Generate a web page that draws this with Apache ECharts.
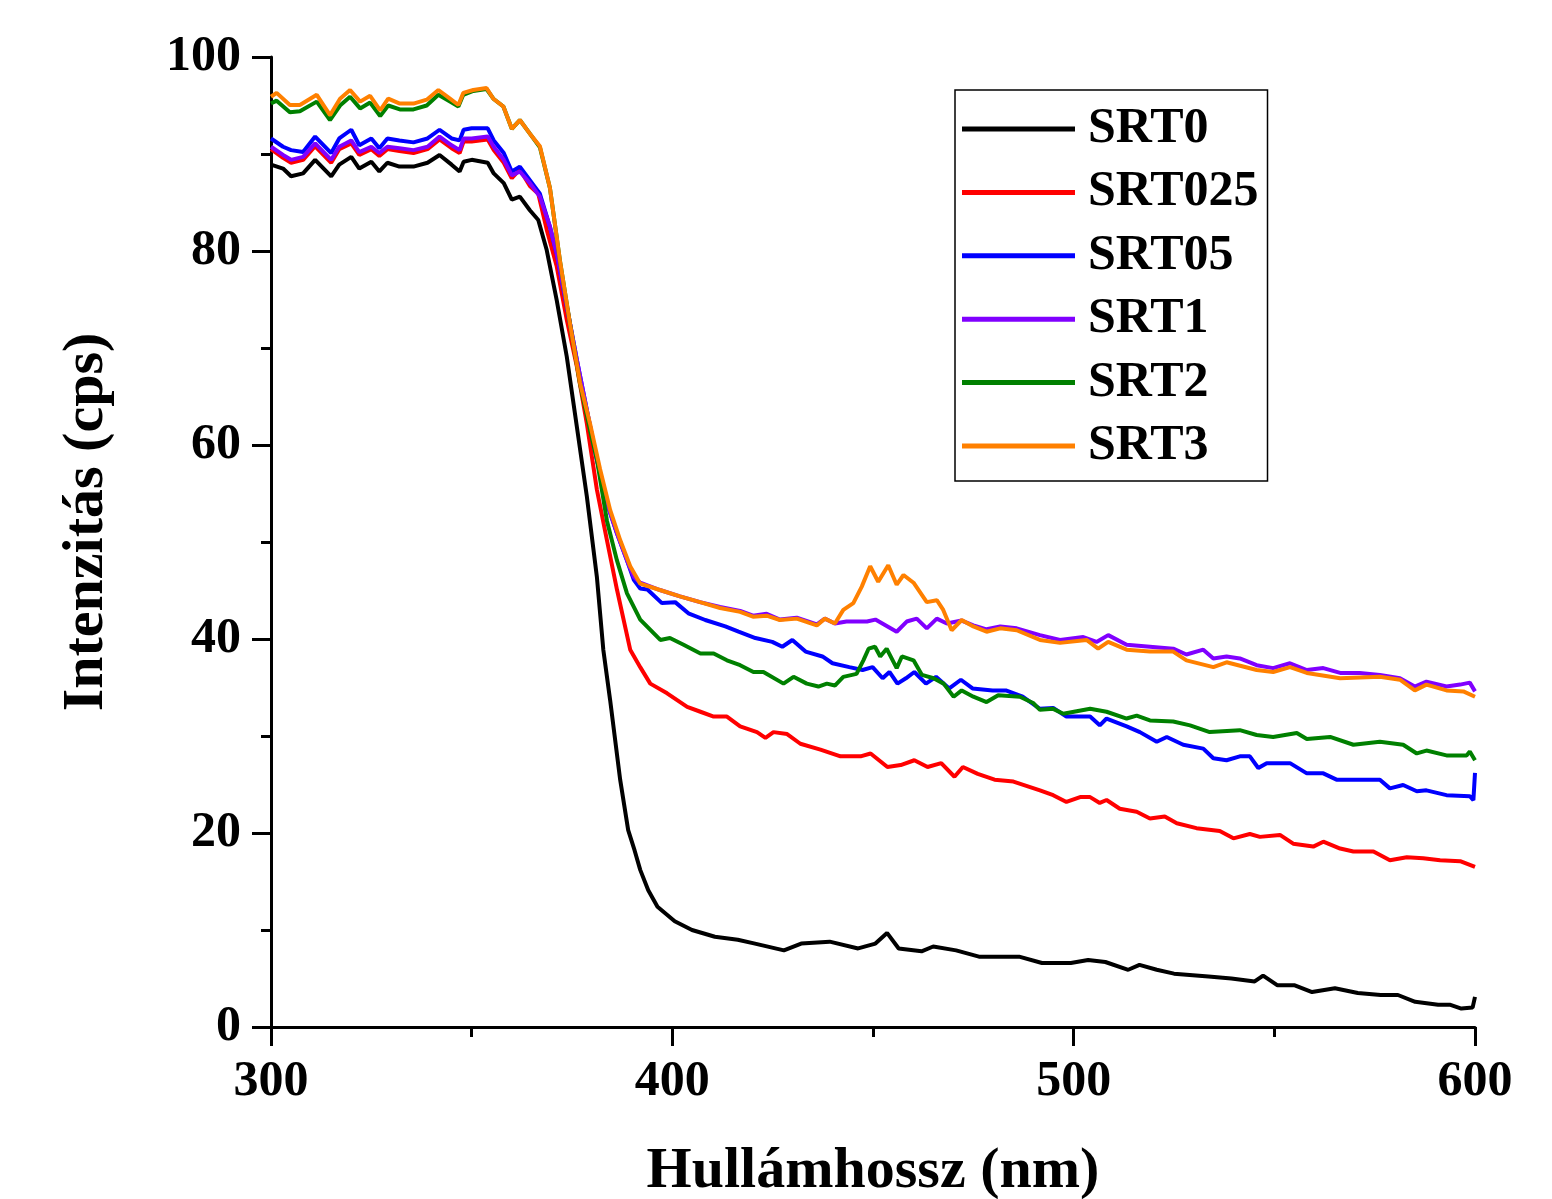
<!DOCTYPE html>
<html>
<head>
<meta charset="utf-8">
<script src="https://cdn.jsdelivr.net/npm/echarts@6/dist/echarts.min.js"></script>
<style>
  html, body { margin: 0; padding: 0; background: #fff; }
  #chart { width: 1552px; height: 1199px; }
</style>
</head>
<body>
<div id="chart"></div>
<script>
// wavelength (nm), intensity (cps)
const srt0 = [[300,88.9],[303,88.5],[305,87.7],[308,88.0],[311,89.4],[315,87.7],[317,88.9],[320,89.7],[322,88.5],[325,89.2],[327,88.2],[329,89.1],[332,88.7],[335.5,88.7],[339,89.1],[342,89.9],[345,88.9],[347,88.2],[348,89.2],[350,89.4],[354,89.1],[355.5,88.0],[358,87.0],[360,85.3],[362,85.6],[364.5,84.2],[366.6,83.2],[368.7,80.1],[371.2,74.9],[373.7,69.1],[376.2,61.9],[378.7,54.7],[381.2,46.4],[382.8,38.9],[384.5,33.7],[387,25.5],[389,20.3],[390.6,18.2],[392,16.2],[394,14.1],[396.3,12.4],[400.6,10.9],[404.9,10.0],[410.6,9.3],[416.3,9.0],[420.6,8.6],[427.8,7.9],[432.1,8.6],[439.2,8.8],[446.3,8.1],[450.6,8.6],[453.5,9.7],[456.4,8.1],[462.1,7.8],[465,8.3],[470.7,7.9],[476.4,7.25],[482.1,7.25],[486.4,7.25],[492.1,6.6],[499.3,6.6],[503.6,6.9],[507.9,6.7],[513.6,5.9],[516.4,6.4],[520.7,5.9],[525,5.5],[533.6,5.2],[539.3,5.0],[545.1,4.7],[547.2,5.3],[550.8,4.3],[555.1,4.3],[559.4,3.6],[565.1,4.0],[570.8,3.5],[576.5,3.3],[580.8,3.3],[585.1,2.6],[590.8,2.3],[593.7,2.3],[596.6,1.9],[599.4,2.0],[600,3.1]];

const srt025 = [[300,90.5],[303,89.6],[305,89.1],[308,89.4],[311,90.8],[315,89.1],[317,90.5],[320,91.1],[322,89.9],[325,90.5],[327,89.8],[329,90.5],[332,90.3],[335.5,90.1],[339,90.5],[342,91.5],[345,90.6],[347,90.1],[348,91.3],[350,91.3],[354,91.5],[355.5,90.4],[358,89.1],[360,87.5],[362,88.4],[364.5,86.7],[366.6,85.9],[368.7,82.2],[371.2,78.4],[373.7,72.9],[376.2,68.1],[378.7,62.2],[381.2,55.4],[383.7,50.2],[386.2,45.1],[389.5,38.9],[392,37.1],[394.5,35.4],[398.7,34.4],[403.7,33.0],[407,32.5],[410.3,32.0],[413.6,32.0],[416.9,31.0],[421.1,30.4],[423.2,29.8],[425.2,30.4],[428.6,30.2],[431.9,29.2],[436.9,28.6],[441.9,27.9],[446.9,27.9],[449.4,28.2],[453.6,26.8],[456.9,27.0],[460.3,27.5],[463.6,26.8],[467,27.2],[470.3,25.8],[472.4,26.8],[476.1,26.1],[480.3,25.5],[485,25.3],[491.6,24.4],[494.9,23.9],[498.2,23.2],[501.6,23.7],[504.1,23.7],[506.5,23.1],[508.2,23.4],[511.5,22.5],[515.7,22.2],[519,21.5],[522.7,21.7],[525.7,21.0],[530.6,20.5],[536.4,20.2],[539.8,19.45],[543.9,19.9],[546.4,19.6],[551.4,19.8],[554.7,18.9],[559.7,18.6],[562.2,19.1],[566.4,18.4],[569.7,18.1],[574.7,18.1],[578.8,17.2],[583,17.5],[587.1,17.4],[591.3,17.2],[596.3,17.1],[600,16.5]];

const srt05 = [[300,91.6],[303,90.75],[305,90.4],[308,90.2],[311,91.8],[315,90.1],[317,91.6],[320,92.5],[322,90.9],[325,91.6],[327,90.6],[329,91.6],[332,91.4],[335.5,91.2],[339,91.6],[342,92.5],[345,91.6],[347,91.4],[348,92.5],[350,92.65],[354,92.65],[355.5,91.4],[358,90.1],[360,88.2],[362,88.7],[364.5,87.3],[367,85.9],[369.5,82.5],[371.2,79.7],[373.7,74.3],[376.2,68.8],[378.7,63.6],[381.2,58.5],[383.7,54.0],[386.2,50.9],[388.7,48.1],[390.4,46.1],[392,45.2],[393.8,45.1],[397.4,43.7],[400.7,43.8],[404,42.65],[408.2,41.96],[413.2,41.3],[416.5,40.75],[420.7,40.1],[424.9,39.7],[427.4,39.2],[429.9,39.9],[433.2,38.7],[437.4,38.2],[439.9,37.5],[444.1,37.1],[447.4,36.8],[449.9,37.1],[452.4,35.95],[454.1,36.6],[456.1,35.4],[458.2,35.95],[460.3,36.6],[463.2,35.4],[465.7,36.1],[469,34.9],[471.9,35.8],[474.8,34.9],[479.8,34.7],[483.1,34.7],[487.3,34.05],[491.6,32.8],[494.9,32.9],[498.2,32.0],[504.1,32.0],[506.5,31.1],[508.2,31.8],[513.2,31.0],[516.5,30.4],[520.7,29.4],[523.2,29.9],[527.3,29.1],[532.3,28.7],[534.8,27.7],[538.1,27.5],[541.4,27.9],[543.9,27.9],[546,26.7],[548.1,27.2],[553.9,27.2],[558.1,26.15],[562.2,26.15],[565.5,25.5],[571.3,25.5],[576.3,25.5],[578.8,24.6],[582.1,24.95],[585.5,24.3],[587.9,24.4],[592.9,23.9],[598.7,23.8],[599.6,23.4],[600,26.2]];

const srt1 = [[300,90.75],[303,89.9],[305,89.4],[308,89.7],[311,91.1],[315,89.4],[317,90.75],[320,91.4],[322,90.2],[325,90.75],[327,90.1],[329,90.75],[332,90.6],[335.5,90.4],[339,90.75],[342,91.8],[345,90.9],[347,90.4],[348,91.6],[350,91.6],[354,91.8],[355.5,90.75],[358,89.4],[360,87.8],[362,88.2],[364.5,87.0],[367,85.6],[369.5,82.5],[371.2,79.7],[373.7,74.3],[376.2,68.8],[378.7,63.6],[381.2,58.5],[383.7,54.0],[386.2,50.9],[388.7,48.1],[390.4,46.4],[392,45.8],[396.9,45.05],[401.9,44.4],[406.9,43.8],[411.9,43.3],[416.9,42.9],[420.1,42.4],[423.5,42.6],[426.8,42.0],[431,42.2],[436,41.5],[438,42.1],[440.5,41.6],[443.4,41.8],[448.5,41.8],[450.6,42.0],[455.9,40.75],[458.4,41.8],[460.9,42.1],[463.4,41.1],[465.9,42.1],[468.4,41.6],[472.1,41.9],[475,41.4],[478.3,41.0],[481.7,41.3],[485.8,41.1],[491.6,40.4],[496.6,39.9],[502.4,40.2],[505.7,39.7],[508.6,40.4],[513.2,39.4],[519,39.2],[524.8,39.0],[528.1,38.4],[532.3,38.9],[534.8,38.0],[538.1,38.2],[541.4,38.0],[545.6,37.3],[549.7,37.0],[553.9,37.5],[558.1,36.8],[562.2,37.0],[566.4,36.5],[571.3,36.5],[576.3,36.3],[581.3,35.95],[585,35.1],[587.9,35.6],[592.9,35.1],[596.3,35.3],[598.7,35.5],[600,34.6]];

const srt2 = [[300,95.2],[301.4,95.5],[304.7,94.3],[307.2,94.4],[311.4,95.4],[314.7,93.5],[317.2,95.0],[319.7,95.9],[322.2,94.7],[324.7,95.3],[327.2,93.9],[329.2,95.0],[332.1,94.6],[335.5,94.6],[338.8,95.0],[341.7,96.1],[344.6,95.4],[346.7,94.9],[347.9,96.1],[350.4,96.5],[353.7,96.7],[355.4,95.7],[357.9,94.9],[360,92.6],[362,93.5],[364.5,92.1],[367,90.7],[369.5,86.5],[372,79.0],[374.5,72.5],[377,66.3],[379.5,61.5],[381.2,58.5],[383.7,52.2],[386.2,48.1],[388.7,44.7],[392,42.0],[397,39.9],[399.4,40.1],[402.8,39.4],[407,38.5],[410.3,38.5],[413.6,37.8],[416.9,37.3],[420.2,36.6],[422.7,36.6],[427.7,35.4],[430.2,36.1],[433.5,35.4],[436.4,35.1],[438.5,35.4],[440.5,35.2],[442.6,36.1],[445.9,36.4],[447.6,37.8],[448.9,39.0],[450.5,39.2],[451.8,38.2],[453.4,39.0],[455.9,37.0],[457.2,38.2],[460.1,37.8],[462.2,36.3],[465.1,35.95],[467.6,35.4],[470.1,34.05],[472.1,34.7],[475,34.05],[478.3,33.5],[481.2,34.2],[486.6,34.05],[489.9,33.4],[491.6,32.7],[494.9,32.8],[497.4,32.3],[504.1,32.8],[508.2,32.5],[513.2,31.8],[515.7,32.1],[519,31.6],[524.8,31.5],[529,31.1],[533.9,30.4],[541.4,30.6],[545.6,30.1],[549.7,29.9],[555.6,30.3],[558.1,29.7],[563.9,29.9],[569.7,29.1],[576.3,29.4],[582.1,29.1],[585.5,28.2],[587.9,28.5],[592.9,28.0],[597.9,28.0],[598.7,28.4],[600,27.5]];

const srt3 = [[300,95.9],[301.4,96.3],[304.7,95.05],[307.2,95.05],[311.4,96.1],[314.7,94.0],[317.2,95.7],[319.7,96.6],[322.2,95.4],[324.7,96.0],[327.2,94.5],[329.2,95.7],[332.1,95.2],[335.5,95.2],[338.8,95.6],[341.7,96.6],[344.6,95.7],[346.7,95.05],[347.9,96.3],[350.4,96.6],[353.7,96.8],[355.4,95.7],[357.9,94.9],[360,92.6],[362,93.5],[364.5,92.1],[367,90.8],[369.5,86.5],[372,79.0],[374.5,72.5],[377,66.4],[379.5,62.2],[382,57.5],[384.5,53.3],[387,50.2],[389.5,47.5],[392,45.7],[396.9,45.05],[401.9,44.4],[406.9,43.8],[411.9,43.2],[416.9,42.8],[420.1,42.3],[423.5,42.4],[426.8,41.96],[431,42.1],[436,41.4],[438,42.1],[440.5,41.6],[442.6,43.0],[445.1,43.7],[447.2,45.4],[449.3,47.5],[451.3,45.9],[453.8,47.6],[455.9,45.6],[457.6,46.6],[460.1,45.8],[463.4,43.8],[465.9,44.0],[467.5,43.0],[469.6,40.9],[472.1,41.96],[475,41.3],[478.3,40.75],[481.7,41.1],[485.8,40.9],[491.6,39.9],[496.6,39.6],[503.2,39.9],[506.1,39.0],[508.6,39.7],[513.2,38.9],[519,38.7],[524.8,38.7],[528.1,37.8],[534.8,37.1],[538.1,37.6],[545.6,36.8],[549.7,36.6],[553.9,37.1],[558.1,36.5],[566.4,35.95],[576.3,36.1],[581.3,35.8],[585,34.7],[587.9,35.3],[592.9,34.7],[597.1,34.6],[600,34.05]];

const seriesNames = ['SRT0', 'SRT025', 'SRT05', 'SRT1', 'SRT2', 'SRT3'];
const seriesData = [srt0, srt025, srt05, srt1, srt2, srt3];
const seriesColors = ['#000000', '#ff0000', '#0000ff', '#8000ff', '#008000', '#ff8000'];

const font = "'Liberation Serif', 'Times New Roman', serif";
const chart = echarts.init(document.getElementById('chart'));

chart.setOption({
  animation: false,
  backgroundColor: '#fff',
  grid: { left: 271, right: 77, top: 57, bottom: 172, containLabel: false, outerBoundsMode: 'none' },
  legend: {
    orient: 'vertical',
    left: 955,
    top: 90,
    padding: [14, 9, 10, 7],
    itemGap: 13.4,
    itemWidth: 113,
    itemHeight: 5,
    icon: 'rect',
    borderColor: '#000',
    borderWidth: 1.5,
    backgroundColor: '#fff',
    data: seriesNames,
    textStyle: { fontFamily: font, fontWeight: 'bold', fontSize: 50, color: '#000', padding: [0, 0, 0, 8] }
  },
  xAxis: {
    type: 'value',
    min: 300,
    max: 600,
    interval: 100,
    name: 'Hullámhossz (nm)',
    nameLocation: 'middle',
    nameGap: 116,
    nameTextStyle: { fontFamily: font, fontWeight: 'bold', fontSize: 58, color: '#000' },
    axisLine: { lineStyle: { color: '#000', width: 3 } },
    axisTick: { inside: false, length: 19, lineStyle: { width: 3, color: '#000' } },
    minorTick: { show: true, splitNumber: 2, length: 10, lineStyle: { width: 3, color: '#000' } },
    axisLabel: { fontFamily: font, fontWeight: 'bold', fontSize: 50, color: '#000', margin: 30 },
    splitLine: { show: false }
  },
  yAxis: {
    type: 'value',
    min: 0,
    max: 100,
    interval: 20,
    name: 'Intenzitás (cps)',
    nameLocation: 'middle',
    nameGap: 155,
    nameTextStyle: { fontFamily: font, fontWeight: 'bold', fontSize: 58, color: '#000', padding: [0, 0, 0, 40] },
    axisLine: { lineStyle: { color: '#000', width: 3 } },
    axisTick: { inside: false, length: 19, lineStyle: { width: 3, color: '#000' } },
    minorTick: { show: true, splitNumber: 2, length: 10, lineStyle: { width: 3, color: '#000' } },
    axisLabel: { fontFamily: font, fontWeight: 'bold', fontSize: 50, color: '#000', margin: 30 },
    splitLine: { show: false }
  },
  series: seriesNames.map((name, i) => ({
    name,
    type: 'line',
    data: seriesData[i],
    symbol: 'none',
    showSymbol: false,
    color: seriesColors[i],
    lineStyle: { width: 4, color: seriesColors[i] },
    clip: true
  }))
});
</script>
</body>
</html>
